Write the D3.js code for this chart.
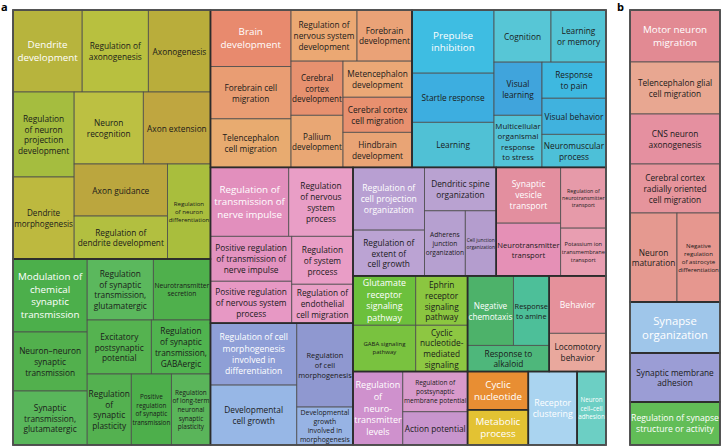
<!DOCTYPE html>
<html>
<head>
<meta charset="utf-8">
<script src="https://cdn.jsdelivr.net/npm/d3@7"></script>
<style>
  body { margin: 0; background: #fff; }
  svg { display: block; font-family: "Open Sans", sans-serif; }
</style>
</head>
<body>
<svg id="chart" width="722" height="447"></svg>
<script>
// ---- panel a : GO term clusters (terms keep the line breaks printed in the figure)
const groupsA = [
  "Dendrite development", "Modulation of chemical synaptic transmission", "Brain development",
  "Prepulse inhibition", "Regulation of transmission of nerve impulse",
  "Regulation of cell morphogenesis involved in differentiation",
  "Regulation of cell projection organization", "Synaptic vesicle transport",
  "Glutamate receptor signaling pathway", "Regulation of neurotransmitter levels",
  "Negative chemotaxis", "Behavior", "Cyclic nucleotide", "Metabolic process",
  "Receptor clustering", "Neuron cell–cell adhesion"
];
const termsA = [
  ["Dendrite\ndevelopment", "Regulation of\naxonogenesis", "Axonogenesis",
   "Regulation\nof neuron\nprojection\ndevelopment", "Dendrite\nmorphogenesis", "Neuron\nrecognition",
   "Axon extension", "Axon guidance", "Regulation of\ndendrite development",
   "Regulation\nof neuron\ndifferentiation"],
  ["Modulation of\nchemical\nsynaptic\ntransmission", "Neuron–neuron\nsynaptic\ntransmission",
   "Synaptic\ntransmission,\nglutamatergic", "Regulation\nof synaptic\ntransmission,\nglutamatergic",
   "Neurotransmitter\nsecretion", "Excitatory\npostsynaptic\npotential",
   "Regulation\nof synaptic\ntransmission,\nGABAergic", "Regulation\nof\nsynaptic\nplasticity",
   "Positive\nregulation\nof synaptic\ntransmission",
   "Regulation\nof long-term\nneuronal\nsynaptic\nplasticity"],
  ["Brain\ndevelopment", "Forebrain cell\nmigration", "Telencephalon\ncell migration",
   "Regulation of\nnervous system\ndevelopment", "Forebrain\ndevelopment", "Cerebral\ncortex\ndevelopment",
   "Pallium\ndevelopment", "Metencephalon\ndevelopment", "Cerebral cortex\ncell migration",
   "Hindbrain\ndevelopment"],
  ["Prepulse\ninhibition", "Startle response", "Learning", "Cognition", "Learning\nor memory",
   "Visual\nlearning", "Multicellular\norganismal\nresponse\nto stress", "Response\nto pain",
   "Visual behavior", "Neuromuscular\nprocess"],
  ["Regulation of\ntransmission of\nnerve impulse", "Regulation\nof nervous\nsystem\nprocess",
   "Positive regulation\nof transmission of\nnerve impulse", "Positive regulation\nof nervous system\nprocess",
   "Regulation\nof system\nprocess", "Regulation of\nendothelial\ncell migration"],
  ["Regulation of cell\nmorphogenesis\ninvolved in\ndifferentiation", "Developmental\ncell growth",
   "Regulation\nof cell\nmorphogenesis", "Developmental\ngrowth\ninvolved in\nmorphogenesis"],
  ["Regulation of\ncell projection\norganization", "Regulation of\nextent of\ncell growth",
   "Dendritic spine\norganization", "Adherens\njunction\norganization", "Cell junction\norganization"],
  ["Synaptic\nvesicle\ntransport", "Neurotransmitter\ntransport",
   "Regulation of\nneurotransmitter\ntransport", "Potassium ion\ntransmembrane\ntransport"],
  ["Glutamate\nreceptor\nsignaling\npathway", "GABA signaling\npathway",
   "Ephrin\nreceptor\nsignaling\npathway", "Cyclic\nnucleotide-\nmediated\nsignaling"],
  ["Regulation\nof\nneuro-\ntransmitter\nlevels", "Regulation of\npostsynaptic\nmembrane potential",
   "Action potential"],
  ["Negative\nchemotaxis", "Response\nto amine", "Response to\nalkaloid"],
  ["Behavior", "Locomotory\nbehavior"],
  ["Cyclic\nnucleotide"],
  ["Metabolic\nprocess"],
  ["Receptor\nclustering"],
  ["Neuron\ncell–cell\nadhesion"]
];
const sizesA = [
  [5658, 5412, 5084, 5185, 5002, 4968, 4824, 4845, 4000, 4075],
  [5402, 4366, 3996, 4026, 3477, 3456, 3186, 3124, 2840, 2769],
  [4550, 4200, 3900, 3366, 2805, 2808, 2704, 2484, 2415, 2415],
  [5166, 4018, 3690, 2964, 2860, 2544, 2496, 2304, 2304, 2112],
  [5382, 4416, 3645, 3402, 2928, 2379],
  [5332, 5160, 4704, 2128],
  [4473, 3266, 3108, 2647, 2011],
  [3584, 3392, 2745, 2160],
  [3087, 2898, 2548, 2392],
  [3650, 2600, 2145],
  [3174, 2484, 2132],
  [3249, 2166],
  [2318],
  [2135],
  [3577],
  [2117]
];

// ---- panel b
const groupsB = ["Motor neuron migration", "Synapse organization",
  "Synaptic membrane adhesion", "Regulation of synapse structure or activity"];
const termsB = [
  ["Motor neuron\nmigration", "Telencephalon glial\ncell migration", "CNS neuron\naxonogenesis",
   "Cerebral cortex\nradially oriented\ncell migration", "Neuron\nmaturation",
   "Negative\nregulation\nof astrocyte\ndifferentiation"],
  ["Synapse\norganization"],
  ["Synaptic membrane\nadhesion"],
  ["Regulation of synapse\nstructure or activity"]
];
const sizesB = [
  [4680, 4680, 4500, 4410, 4183, 3827],
  [4590],
  [4410],
  [3870]
];

// fill colours, same shape as the term lists
const fillsA = [
  ["#b7b43d", "#b8c03f", "#b9ad3b", "#a5bd3f", "#bdb93f", "#bcc042", "#bfa640", "#bba63e", "#b2bf40", "#a9be3d"],
  ["#4caf4b", "#52b04d", "#59b65b", "#5bb85d", "#4fb04c", "#55b350", "#50b34f", "#54b150", "#4daf4b", "#5ab55a"],
  ["#e88a6e", "#e99d73", "#e8ab70", "#eba873", "#eaa277", "#e7916f", "#e9a774", "#eba876", "#e8906f", "#e9a475"],
  ["#3ebde2", "#3daee0", "#50c1d5", "#57c6d6", "#53c4d5", "#40a4dc", "#53c3d8", "#3eb8e0", "#40b2de", "#4dc0d8"],
  ["#e28fbd", "#e99ec6", "#e393c0", "#e798c4", "#e99dc6", "#e99fc6"],
  ["#8f9fd7", "#97b7e6", "#8f98d0", "#97b3e4"],
  ["#b89fd2", "#bba3d3", "#b9a2d1", "#b6a0d0", "#b49dce"],
  ["#e38f9f", "#e590b6", "#e69aa9", "#e89eb1"],
  ["#6cc03c", "#79c23f", "#8bc640", "#8dc742"],
  ["#cf91cd", "#d89acb", "#c895cd"],
  ["#4db26a", "#4dbf99", "#4eb77b"],
  ["#e5919b", "#e9a89d"],
  ["#e88e33"],
  ["#e3c233"],
  ["#aad4f0"],
  ["#6ccfc4"]
];
const fillsB = [
  ["#e28a93", "#e8a791", "#e590a0", "#e6949c", "#e59990", "#e6978f"],
  ["#9fc6ea"],
  ["#9b9dd5"],
  ["#62bd57"]
];
// cluster heads get a white label, except these
const darkHeads = new Set(["Synaptic membrane adhesion"]);
// starting font sizes that differ from the defaults (still shrunk to fit)
const fontBase = {
  "GABA signaling\npathway": 6,
  "Synapse\norganization": 11.3,
  "Regulation of\ncell projection\norganization": 8.6,
  "Synaptic\nvesicle\ntransport": 8.6,
  "Behavior": 8.6,
  "Receptor\nclustering": 8.8,
  "Glutamate\nreceptor\nsignaling\npathway": 8.8,
  "Regulation of cell\nmorphogenesis\ninvolved in\ndifferentiation": 8.6
};

const svg = d3.select("#chart");
const ctx = document.createElement("canvas").getContext("2d");

function buildTree(groups, terms, sizes, fills) {
  return {
    name: "root",
    children: groups.map((g, i) => ({
      name: g,
      children: terms[i].map((t, j) => ({
        name: t, value: sizes[i][j], fill: fills[i][j],
        head: j === 0 && !darkHeads.has(g)
      }))
    }))
  };
}

// ordered "pivot" tiling: first item is the pivot, the items right after it
// share its strip, the split chosen so the pivot is as square as possible
function pivotLayout(nodes, x0, y0, x1, y1) {
  if (!nodes.length) return;
  if (nodes.length === 1) {
    Object.assign(nodes[0], {x0, y0, x1, y1});
    return;
  }
  const w = x1 - x0, h = y1 - y0;
  const total = d3.sum(nodes, d => d.value);
  const p = nodes[0], rest = nodes.slice(1);
  let best = 0, bestR = Infinity, acc = p.value;
  for (let k = 0; k <= rest.length; k++) {
    if (k > 0) acc += rest[k - 1].value;
    let pw, ph;
    if (w >= h) { pw = w * acc / total; ph = h * p.value / acc; }
    else { ph = h * acc / total; pw = w * p.value / acc; }
    const r = Math.max(pw / ph, ph / pw);
    if (r < bestR) { bestR = r; best = k; }
  }
  const l2 = rest.slice(0, best), l3 = rest.slice(best);
  const s = p.value + d3.sum(l2, d => d.value);
  if (w >= h) {
    const xm = x0 + w * s / total, ym = y0 + h * p.value / s;
    Object.assign(p, {x0, y0, x1: xm, y1: ym});
    pivotLayout(l2, x0, ym, xm, y1);
    pivotLayout(l3, xm, y0, x1, y1);
  } else {
    const ym = y0 + h * s / total, xm = x0 + w * p.value / s;
    Object.assign(p, {x0, y0, x1: xm, y1: ym});
    pivotLayout(l2, xm, y0, x1, ym);
    pivotLayout(l3, x0, ym, x1, y1);
  }
}
function pivotTile(parent, x0, y0, x1, y1) {
  pivotLayout(parent.children, x0, y0, x1, y1);
}

function textWidth(s, fs) {
  ctx.font = fs + 'px "Open Sans"';
  return ctx.measureText(s).width;
}
const lineH = fs => fs * 1.2 + 0.9;
function fitSize(lines, w, h, base) {
  let fs = base;
  while (fs > 4) {
    const mw = d3.max(lines, l => textWidth(l, fs));
    if (mw <= w - 2 && lines.length * lineH(fs) <= h - 1) break;
    fs -= 0.1;
  }
  return fs;
}

function drawPanel(tree, x, y, w, h) {
  const root = d3.hierarchy(tree).sum(d => d.value || 0);
  d3.treemap().tile(pivotTile).size([w, h])(root);

  const g = svg.append("g").attr("transform", `translate(${x},${y})`);

  g.selectAll("rect.leaf")
    .data(root.leaves())
    .join("rect")
    .attr("class", "leaf")
    .attr("x", d => d.x0)
    .attr("y", d => d.y0)
    .attr("width", d => d.x1 - d.x0)
    .attr("height", d => d.y1 - d.y0)
    .attr("fill", d => d.data.fill)
    .attr("stroke", "#4d4d4d")
    .attr("stroke-width", 0.8);

  g.selectAll("rect.group")
    .data(root.children)
    .join("rect")
    .attr("class", "group")
    .attr("x", d => d.x0)
    .attr("y", d => d.y0)
    .attr("width", d => d.x1 - d.x0)
    .attr("height", d => d.y1 - d.y0)
    .attr("fill", "none")
    .attr("stroke", "#2b2b2b")
    .attr("stroke-width", 1.5);

  g.append("rect")
    .attr("width", w).attr("height", h)
    .attr("fill", "none")
    .attr("stroke", "#555")
    .attr("stroke-width", 1.5);

  const labels = g.selectAll("text.lab")
    .data(root.leaves())
    .join("text")
    .attr("class", "lab")
    .attr("text-anchor", "middle")
    .attr("fill", d => d.data.head ? "#ffffff" : "#1a1a1a");

  labels.each(function(d) {
    const lines = d.data.name.split("\n");
    const bw = d.x1 - d.x0, bh = d.y1 - d.y0;
    const base = fontBase[d.data.name] || (d.data.head ? 9.8 : 8.3);
    const fs = fitSize(lines, bw, bh, base);
    const lh = lineH(fs);
    const cx = (d.x0 + d.x1) / 2, cy = (d.y0 + d.y1) / 2;
    const t = d3.select(this).attr("font-size", fs.toFixed(2));
    lines.forEach((l, i) => {
      t.append("tspan")
        .attr("x", cx)
        .attr("y", cy + (i - (lines.length - 1) / 2) * lh)
        .attr("dominant-baseline", "central")
        .text(l);
    });
  });
}

drawPanel(buildTree(groupsA, termsA, sizesA, fillsA), 13, 10, 593, 435);
drawPanel(buildTree(groupsB, termsB, sizesB, fillsB), 630, 10, 90, 435);

svg.append("text").attr("x", 1).attr("y", 11)
  .attr("font-size", 11).attr("font-weight", 700).text("a");
svg.append("text").attr("x", 617).attr("y", 11)
  .attr("font-size", 11).attr("font-weight", 700).text("b");
</script>
</body>
</html>
